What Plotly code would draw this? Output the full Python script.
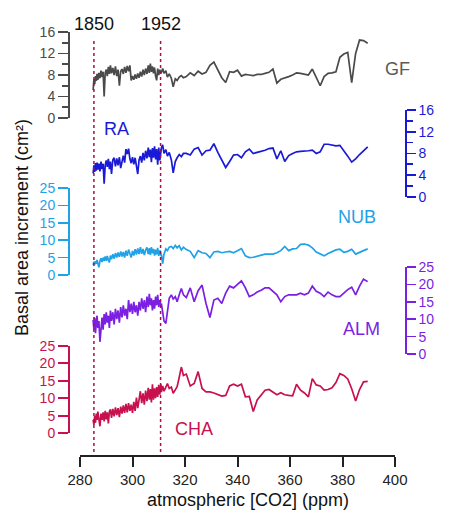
import plotly.graph_objects as go

# ---------------- data ----------------
co2 = [
    285.0, 285.3, 285.6, 285.9, 286.2, 286.5, 286.8, 287.2, 287.6, 288.0,
    288.4, 288.8, 289.2, 289.6, 290.0, 290.4, 290.8, 291.2, 291.6, 292.0,
    292.5, 293.0, 293.5, 294.0, 294.5, 295.0, 295.5, 296.0, 296.5, 297.0,
    297.5, 298.0, 298.5, 299.0, 299.5, 300.0, 300.5, 301.0, 301.5, 302.0,
    302.5, 303.0, 303.5, 304.0, 304.5, 305.0, 305.5, 306.0, 306.4, 306.8,
    307.2, 307.6, 308.0, 308.4, 308.8, 309.2, 309.6, 310.0, 310.4, 310.8,
    311.0, 311.5, 312.0, 312.7, 313.3, 314.0, 314.8, 315.5, 316.3, 317.0,
    317.8, 318.6, 319.4,
    320.5, 322.0, 323.5, 325.0, 326.5, 328.0, 329.5, 331.0, 332.5, 334.0,
    335.5, 337.0, 338.5, 340.0, 341.5, 343.0, 344.5, 346.0, 347.5, 349.0,
    350.5, 352.0, 353.5, 355.0, 356.5, 358.0, 359.5, 361.0, 362.5, 364.0,
    365.5, 367.0, 368.5, 370.0, 371.5, 373.0, 374.5, 376.0, 377.5, 379.0,
    380.5, 382.0, 383.5, 385.0, 386.5, 388.0, 389.6,
]

gf = [
    5.2, 7.2, 6.3, 7.8, 6.9, 8.2, 7.1, 8.4, 7.4, 8.8,
    7.6, 8.6, 4.0, 8.4, 9.0, 7.8, 9.5, 8.2, 9.8, 8.3,
    9.3, 8.0, 9.6, 7.8, 9.0, 6.0, 8.7, 9.1, 8.2, 9.5,
    8.4, 9.7, 8.7, 9.8, 7.0, 7.8, 7.1, 8.1, 7.3, 8.3,
    7.5, 8.6, 7.7, 9.0, 8.0, 9.2, 8.2, 9.8, 8.4, 10.1,
    8.6, 9.6, 8.3, 9.4, 7.8, 7.0, 9.2, 8.0, 9.0, 8.3,
    8.5, 9.2, 8.3, 8.8, 7.6, 8.2, 7.4, 5.8, 7.3, 7.0, 7.6, 7.9, 7.5,
    7.7, 8.4, 7.9, 8.7, 8.2, 8.5, 9.8, 10.4, 9.0, 7.5,
    6.6, 8.6, 8.5, 8.9, 7.8, 8.1, 8.0, 7.9, 8.1, 8.1,
    8.3, 8.5, 9.1, 6.5, 7.2, 7.4, 7.7, 8.0, 8.4, 8.3,
    8.2, 8.0, 9.1, 7.4, 6.0, 7.7, 8.3, 8.4, 8.6, 11.3,
    11.9, 12.2, 6.6, 12.0, 14.5, 14.4, 13.9,
]

ra = [
    4.3, 5.8, 4.6, 6.2, 4.8, 6.3, 5.0, 6.1, 4.7, 6.5,
    5.1, 6.1, 2.4, 5.8, 6.7, 5.5, 7.0, 5.1, 6.5, 4.2,
    6.8, 7.2, 5.6, 7.1, 5.8, 7.3, 5.3, 6.7, 7.6, 6.3,
    8.8, 7.9, 8.9, 7.0, 6.2, 7.3, 6.0, 7.2, 5.7, 4.2,
    6.8, 7.5, 6.3, 8.1, 6.7, 8.5, 7.1, 9.1, 7.3, 8.7,
    6.4, 9.0, 7.2, 9.3, 6.9, 8.8, 5.9, 9.1, 6.7, 8.6,
    9.0, 9.6, 8.0, 8.7, 7.5, 8.2, 6.8, 4.4, 6.5, 7.2, 7.8, 7.4, 8.0,
    8.0, 7.7, 8.8, 9.1, 7.7, 8.5, 8.6, 9.8, 8.2, 6.8,
    5.4, 6.5, 7.7, 7.8, 7.2, 8.3, 8.8, 8.0, 8.2, 8.3,
    8.6, 8.9, 9.0, 7.0, 8.5, 6.5, 7.6, 8.0, 8.3, 8.4,
    8.4, 8.5, 8.6, 8.0, 8.3, 9.7, 9.7, 9.5, 9.4, 9.5,
    8.6, 7.5, 6.4, 7.0, 7.8, 8.5, 9.2,
]

nub = [
    2.9, 3.8, 3.0, 4.0, 3.2, 4.3, 3.4, 2.2, 4.0, 4.8,
    3.7, 5.0, 4.0, 5.3, 4.1, 5.5, 4.3, 3.6, 5.6, 4.5,
    6.0, 4.7, 6.3, 5.0, 6.5, 5.2, 6.8, 5.3, 6.6, 5.0,
    7.0, 5.5, 7.3, 5.7, 5.0, 6.9, 5.6, 7.4, 5.9, 7.6,
    6.0, 8.0, 6.1, 7.5, 5.7, 7.2, 7.9, 6.0, 7.7, 5.8,
    8.0, 6.2, 7.5, 5.6, 7.3, 5.9, 7.8, 5.5, 7.1, 5.8,
    5.8, 3.3, 6.0, 7.5, 7.0, 8.0, 8.2, 7.6, 8.5, 7.8, 8.4, 7.2, 8.0,
    7.3, 6.8, 5.0, 7.0, 6.4, 6.2, 5.0, 6.6, 6.8, 6.4,
    6.6, 6.8, 6.4, 6.9, 7.6, 5.5, 5.0, 5.1, 5.4, 5.6,
    6.0, 6.0, 6.0, 6.4, 7.0, 8.2, 7.0, 7.5, 7.6, 8.8,
    8.9, 8.6, 7.8, 6.6, 6.0, 5.5, 6.2, 6.8, 7.2, 7.4,
    6.5, 6.8, 7.4, 6.0, 6.6, 7.0, 7.5,
]

alm = [
    9.8, 7.0, 10.5, 6.0, 9.0, 11.0, 7.5, 9.5, 3.5, 8.0,
    10.5, 7.0, 11.5, 8.5, 12.0, 9.0, 11.0, 7.5, 12.5, 9.5,
    12.0, 8.5, 13.0, 10.0, 12.5, 9.0, 13.5, 10.5, 14.0, 11.0,
    13.0, 10.0, 15.5, 12.0, 14.5, 11.5, 15.0, 12.0, 14.0, 11.0,
    15.0, 12.5, 16.0, 13.0, 15.5, 12.0, 16.5, 13.5, 17.3, 14.0,
    16.0, 12.5, 15.5, 13.0, 16.5, 14.0, 17.0, 13.5, 15.5, 14.0,
    14.5, 12.0, 9.5, 8.8, 12.5, 16.0, 17.0, 15.8, 16.5, 15.0, 17.0, 18.8, 17.0,
    16.2, 19.0, 15.0, 18.2, 19.8, 14.5, 10.5, 15.5, 16.0, 14.5,
    17.5, 19.5, 19.0, 20.0, 21.0, 19.0, 16.5, 17.0, 17.8, 18.3,
    19.0, 19.0, 18.0, 17.0, 15.0, 16.5, 17.0, 17.0, 17.0, 17.5,
    17.0, 17.5, 19.5, 18.0, 17.5, 16.5, 17.8, 17.0, 16.5, 16.5,
    17.5, 18.5, 19.2, 17.0, 19.5, 21.5, 20.8,
]

cha = [
    3.8, 2.4, 5.0, 3.0, 5.6, 3.8, 6.2, 4.0, 2.0, 5.6,
    3.8, 6.0, 3.4, 6.4, 4.0, 6.0, 2.8, 6.2, 6.8, 4.4,
    7.0, 4.8, 7.4, 5.2, 7.2, 4.6, 7.6, 5.6, 8.0, 5.8,
    8.4, 6.0, 8.6, 6.4, 8.2, 5.8, 9.0, 6.4, 10.2, 7.2,
    9.8, 12.0, 8.6, 11.4, 8.2, 12.2, 9.2, 13.0, 9.6, 12.6,
    8.8, 14.0, 9.6, 12.8, 10.0, 13.2, 10.4, 13.8, 11.0, 14.0,
    11.8, 13.5, 12.0, 13.5, 14.2, 12.8, 13.2, 11.4, 12.5, 13.3, 16.0, 18.9, 16.5,
    16.9, 13.5, 14.2, 17.6, 12.8, 11.8, 11.8, 11.5, 11.0, 10.6,
    10.8, 13.5, 14.0, 13.5, 14.0, 10.4, 10.5, 6.2, 9.5, 11.0,
    12.3, 12.5, 11.8, 11.0, 11.6, 11.0, 10.8, 10.7, 14.0, 12.3,
    11.5, 10.4, 15.6, 13.8, 13.5, 12.3, 12.5, 13.0, 14.5, 17.0,
    16.5, 15.5, 12.7, 9.2, 12.5, 14.7, 14.8,
]

series_names = ["GF", "RA", "NUB", "ALM", "CHA"]
series_values = [gf, ra, nub, alm, cha]
series_colors = ["#4a4a4a", "#1a1ad6", "#1fa2e6", "#7b1fe2", "#c8104e"]
label_colors = ["#5a5a5a", "#1a1ad6", "#1fa2e6", "#7b1fe2", "#c8104e"]
y_ranges = [[0, 16], [0, 16], [0, 25], [0, 25], [0, 25]]
y_dticks = [4, 4, 5, 5, 5]
y_minor = [2, 2, None, None, None]
y_sides = ["left", "right", "left", "right", "left"]

year_labels = ["1850", "1952"]
year_co2 = [285.3, 310.7]

x_ticks = [280, 300, 320, 340, 360, 380, 400]

# ---------------- layout geometry ----------------
W, H = 474, 514
ML, MR, MT, MB = 68, 69, 30, 58
PW, PH = W - ML - MR, H - MT - MB


def fx(px):
    return (px - ML) / PW


def fy(py):
    return (H - MB - py) / PH


# pixel rows of value 0 and top value of each panel
panel_px = [(118, 32), (196.7, 110.2), (275, 188), (354, 267), (433.3, 345.7)]
label_px = [(397, 68.5), (116.5, 128.5), (356.5, 216.5), (361, 328.5), (194, 428.5)]

FONT = "Liberation Sans, Arial, sans-serif"

fig = go.Figure()
layout = dict(
    width=W, height=H,
    margin=dict(l=ML, r=MR, t=MT, b=MB, pad=0),
    paper_bgcolor="white", plot_bgcolor="rgba(0,0,0,0)",
    showlegend=False,
    font=dict(family=FONT, color="#222"),
    xaxis=dict(
        domain=[fx(80), fx(395)], range=[280, 400], anchor="free", position=0,
        showline=True, linecolor="#222", linewidth=2,
        ticks="outside", ticklen=10, tickwidth=2, tickcolor="#222",
        tickvals=x_ticks, tickfont=dict(size=15, color="#222"),
        showgrid=False, zeroline=False,
    ),
)

annotations = []
for i, (name, vals, col) in enumerate(zip(series_names, series_values, series_colors)):
    ax_id = "y" if i == 0 else f"y{i+1}"
    key = "yaxis" if i == 0 else f"yaxis{i+1}"
    fig.add_trace(go.Scatter(
        x=co2, y=vals, mode="lines", xaxis="x", yaxis=ax_id,
        line=dict(color=col, width=1.7), name=name, hoverinfo="skip",
    ))
    p0, p1 = panel_px[i]
    ax = dict(
        domain=[fy(p0), fy(p1)], range=y_ranges[i], anchor="free",
        position=0 if y_sides[i] == "left" else 1, side=y_sides[i],
        showline=True, linecolor=col, linewidth=1.6,
        ticks="outside", ticklen=10 if y_sides[i] == "left" else 9,
        tickwidth=1.6, tickcolor=col,
        tick0=0, dtick=y_dticks[i], tickfont=dict(size=14, color=col),
        showgrid=False, zeroline=False,
    )
    if y_minor[i]:
        ax["minor"] = dict(ticks="outside", ticklen=6, tickwidth=1.6, tickcolor=col,
                           tick0=0, dtick=y_minor[i], showgrid=False)
    layout[key] = ax
    lx, ly = label_px[i]
    annotations.append(dict(
        text=name, xref="paper", yref="paper", x=fx(lx), y=fy(ly),
        xanchor="center", yanchor="middle", showarrow=False,
        font=dict(size=18, color=label_colors[i], family=FONT),
    ))

# year markers
shapes = []
for lab, xv in zip(year_labels, year_co2):
    shapes.append(dict(
        type="line", xref="x", yref="paper", x0=xv, x1=xv, y0=fy(452), y1=fy(39),
        line=dict(color="#a8104c", width=1.5, dash="dot"), layer="above",
    ))
    annotations.append(dict(
        text=lab, xref="x", yref="paper", x=xv, y=fy(23.5),
        xanchor="center", yanchor="middle", showarrow=False,
        font=dict(size=18, color="#111", family=FONT),
    ))

# axis titles
annotations.append(dict(
    text="atmospheric [CO2] (ppm)", xref="paper", yref="paper",
    x=fx(248), y=fy(500), xanchor="center", yanchor="middle", showarrow=False,
    font=dict(size=18, color="#111", family=FONT),
))
annotations.append(dict(
    text="Basal area increment (cm²)", xref="paper", yref="paper",
    x=fx(22), y=fy(228), xanchor="center", yanchor="middle", showarrow=False,
    textangle=-90, font=dict(size=18, color="#111", family=FONT),
))

layout["annotations"] = annotations
layout["shapes"] = shapes
fig.update_layout(**layout)
fig.write_html(
    "out.html",
    config={"displayModeBar": False, "staticPlot": True},
    post_script="document.body.style.margin='0';document.body.style.overflow='hidden';",
)
